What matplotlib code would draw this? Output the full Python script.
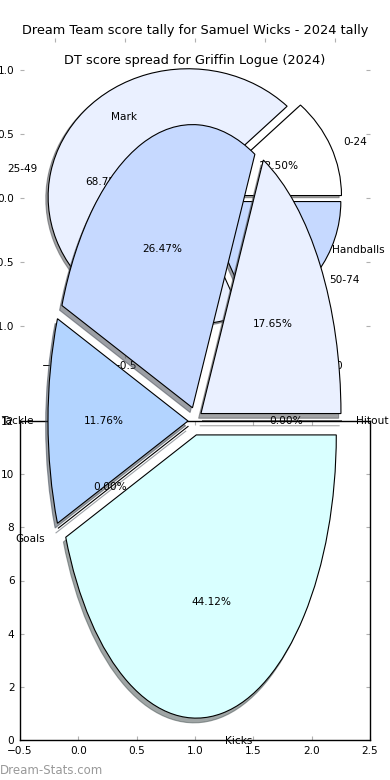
import matplotlib
matplotlib.use("Agg")
import matplotlib.pyplot as plt
import numpy as np

# ---- data ----
tally_labels = ['0-24', '25-49', '50-74']
tally_values = [2, 11, 3]
tally_colors = ['#ffffff', '#eaf0ff', '#c6d9ff']

spread_labels = ['Hitout', 'Handballs', 'Mark', 'Tackle', 'Goals', 'Kicks']
spread_values = [0, 6, 9, 4, 0, 15]
spread_colors = ['#ffffff', '#eaf0ff', '#c6d9ff', '#b3d4ff', '#c0e0ff', '#d9ffff']

pie_ticks = [-1.0, -0.5, 0.0, 0.5, 1.0]
bar_xticks = [-0.5, 0.0, 0.5, 1.0, 1.5, 2.0, 2.5]
bar_yticks = [0, 2, 4, 6, 8, 10, 12]

title1 = 'Dream Team score tally for Samuel Wicks - 2024 tally'
title2 = 'DT score spread for Griffin Logue (2024)'

W, H = 390, 780
fig = plt.figure(figsize=(W / 100, H / 100), dpi=100)
fig.patch.set_facecolor('white')

def box(l, t, r, b):
    return [l / W, (H - b) / H, (r - l) / W, (b - t) / H]

FS = 7.6
TFS = 9.3
wprops = {'edgecolor': 'black', 'linewidth': 0.8}
shadow = {'ox': -0.012, 'oy': -0.012}

# ---- top pie (score tally) ----
ax1 = fig.add_axes(box(20, 38, 370, 358))
ax1.set_zorder(0)
ax1.pie(tally_values, labels=tally_labels, colors=tally_colors,
        explode=[0.05] * len(tally_values), autopct='%1.2f%%',
        shadow=shadow, startangle=0, wedgeprops=wprops,
        textprops={'fontsize': FS})
ax1.set_aspect('auto')
ax1.set_frame_on(False)
ax1.set_xlim(-1.25, 1.25)
ax1.set_ylim(-1.25, 1.25)
ax1.set_xticks(pie_ticks)
ax1.set_yticks(pie_ticks)
ax1.tick_params(direction='in', length=3, color='#b0b0b0', top=True,
                right=True, labelsize=FS, pad=4)
ax1.tick_params(axis='x', pad=2)
ax1.set_title(title1, fontsize=TFS, pad=3)

# ---- framed empty axes ----
ax3 = fig.add_axes(box(20, 421, 370, 740))
ax3.set_zorder(1)
ax3.set_xlim(-0.5, 2.5)
ax3.set_ylim(0, 12)
ax3.set_xticks(bar_xticks)
ax3.set_yticks(bar_yticks)
ax3.tick_params(direction='in', length=3, color='#b0b0b0', top=True,
                right=True, labelsize=FS, pad=4)
for s in ax3.spines.values():
    s.set_color('black')
    s.set_linewidth(1.0)

# ---- bottom pie (score spread) ----
ax2 = fig.add_axes(box(20, 67, 370, 775))
ax2.set_zorder(2)
ax2.pie(spread_values, labels=spread_labels, colors=spread_colors,
        explode=[0.05] * len(spread_values), autopct='%1.2f%%',
        shadow=shadow, startangle=0, wedgeprops=wprops,
        textprops={'fontsize': FS})
ax2.set_aspect('auto')
ax2.set_frame_on(False)
ax2.set_xlim(-1.25, 1.25)
ax2.set_ylim(-1.25, 1.25)
ax2.set_xticks([])
ax2.set_yticks([])
ax2.set_title(title2, fontsize=TFS, pad=1.5)

fig.text(0 / W, 1 - 771 / H, 'Dream-Stats.com', fontsize=8.5, color='#999999',
         ha='left', va='center')

fig.savefig('out.png', dpi=100)
